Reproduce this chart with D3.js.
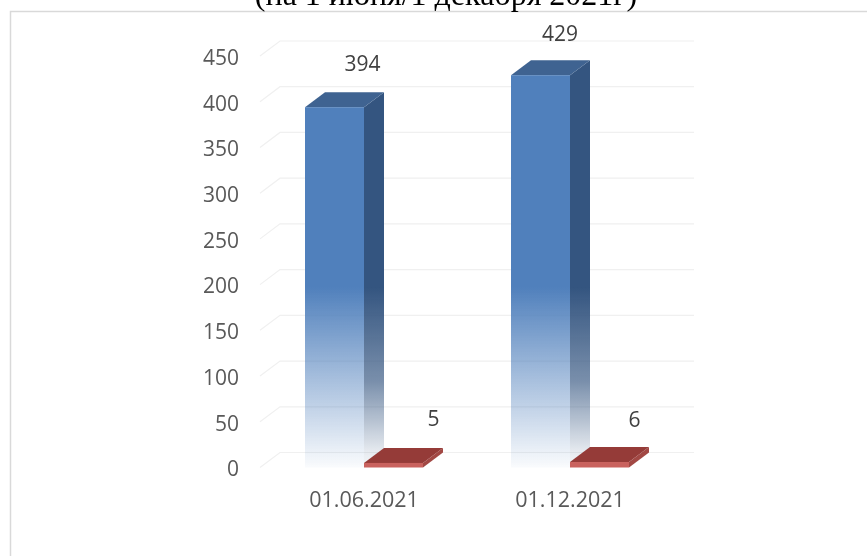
<!DOCTYPE html>
<html lang="ru">
<head>
<meta charset="utf-8">
<script src="https://d3js.org/d3.v7.min.js"></script>
<style>
html,body{margin:0;padding:0;background:#fff;}
svg{display:block;filter:blur(0.35px);}
</style>
</head>
<body>
<svg id="c" width="867" height="556"></svg>
<script>
const categories = ["01.06.2021", "01.12.2021"];
const seriesBlue = [394, 429];
const seriesRed = [5, 6];
const yTicks = [0, 50, 100, 150, 200, 250, 300, 350, 400, 450];
const titleText = "(на 1 июня/1 декабря 2021г)";

const W = 867, H = 556;
const DX = 20, DY = 15;
const font = "Open Sans, Noto Sans, sans-serif";
const svg = d3.select("#c");
const defs = svg.append("defs");

const y = d3.scaleLinear().domain([0, 450]).range([467.5, 56]);
const x0 = d3.scaleBand().domain(categories).range([261, 673]);
const x1 = d3.scaleBand().domain(["blue", "red"]).range([44, 162]);

function grad(id, stops) {
  const g = defs.append("linearGradient").attr("id", id)
    .attr("gradientUnits", "userSpaceOnUse")
    .attr("x1", 0).attr("x2", 0).attr("y1", y(429)).attr("y2", y(0));
  stops.forEach(s => g.append("stop").attr("offset", s[0]).attr("stop-color", s[1]).attr("stop-opacity", s[2]));
}
const solidEnd = 0.54;
grad("frontG", [[0, "#5080bc", 1], [solidEnd, "#5080bc", 1], [1, "#5080bc", 0.03]]);
grad("sideG", [[0, "#345580", 1], [solidEnd, "#345580", 1], [0.78, "#345580", 0.66], [0.96, "#345580", 0.12], [1, "#345580", 0.05]]);

// frame + title
svg.append("path").attr("d", `M10.5 ${H} V11.5 H${W}`)
  .attr("fill", "none").attr("stroke", "#d9d9d9").attr("stroke-width", 1.5);
svg.append("text").attr("x", 446).attr("y", 5).attr("text-anchor", "middle")
  .attr("font-family", "Liberation Serif, serif").attr("font-size", 32).attr("fill", "#000")
  .text(titleText);

// gridlines on the floor/wall
const grid = svg.append("g").attr("fill", "none").attr("stroke", "#f0f0f0").attr("stroke-width", 1.2);
yTicks.forEach(t => {
  const yy = y(t);
  grid.append("path").attr("d", `M${x0.range()[0] - 1} ${yy} L${x0.range()[0] - 1 + DX} ${yy - DY} H${x0.range()[1] + DX + 1}`);
});

// axis labels
svg.append("g").selectAll("text").data(yTicks).join("text")
  .attr("x", 239).attr("y", d => y(d) + 1.5).attr("dy", "0.35em").attr("text-anchor", "end")
  .attr("font-family", font).attr("font-size", 21).attr("fill", "#595959").text(d => d);
svg.append("g").selectAll("text").data(categories).join("text")
  .attr("x", d => x0(d) + x0.bandwidth() / 2).attr("y", 499).attr("dy", "0.35em").attr("text-anchor", "middle")
  .attr("font-family", font).attr("font-size", 21.5).attr("fill", "#595959").text(d => d);

function bar(g, xL, w, v, cols) {
  const yT = y(v), yB = y(0);
  g.append("path").attr("d", `M${xL + w} ${yT} L${xL + w + DX} ${yT - DY} V${yB - DY} L${xL + w} ${yB} Z`).attr("fill", cols.side);
  g.append("path").attr("d", `M${xL} ${yT} L${xL + DX} ${yT - DY} H${xL + w + DX} L${xL + w} ${yT} Z`).attr("fill", cols.top);
  g.append("rect").attr("x", xL).attr("y", yT).attr("width", w).attr("height", yB - yT).attr("fill", cols.front);
}
const bars = svg.append("g");
categories.forEach((c, i) => {
  bar(bars, x0(c) + x1("blue"), x1.bandwidth(), seriesBlue[i], {front: "url(#frontG)", side: "url(#sideG)", top: "#3f6391"});
});
categories.forEach((c, i) => {
  bar(bars, x0(c) + x1("red"), x1.bandwidth(), seriesRed[i], {front: "#c9625e", side: "#a24844", top: "#953b38"});
});

// data labels
const labels = svg.append("g").attr("font-family", font).attr("font-size", 21).attr("fill", "#404040").attr("text-anchor", "middle");
const blueNudge = [[28, -44], [19.5, -42]];
const redNudge = [[40, -44], [35, -42.5]];
categories.forEach((c, i) => {
  labels.append("text").attr("x", x0(c) + x1("blue") + x1.bandwidth() / 2 + blueNudge[i][0]).attr("y", y(seriesBlue[i]) + blueNudge[i][1]).attr("dy", "0.35em").text(seriesBlue[i]);
  labels.append("text").attr("x", x0(c) + x1("red") + x1.bandwidth() / 2 + redNudge[i][0]).attr("y", y(seriesRed[i]) + redNudge[i][1]).attr("dy", "0.35em").text(seriesRed[i]);
});
</script>
</body>
</html>
